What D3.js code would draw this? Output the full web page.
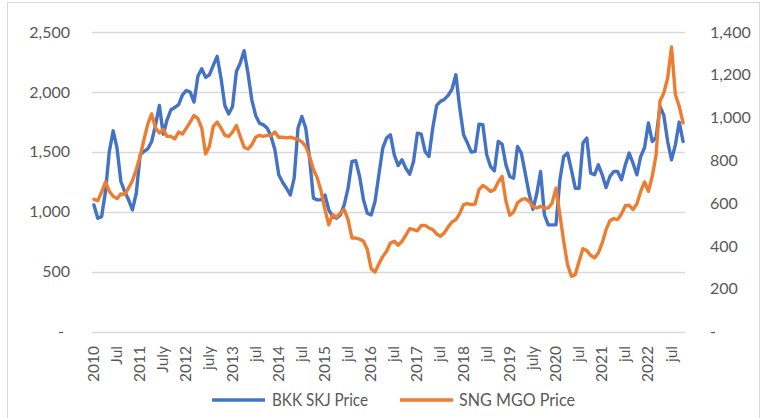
<!DOCTYPE html>
<html><head><meta charset="utf-8">
<script src="https://cdn.jsdelivr.net/npm/d3@7"></script>
<style>
body{margin:0;background:#fff}
svg{display:block}
text{font-family:Lato,'Open Sans',sans-serif;fill:#595959}
</style>
</head><body>
<svg id="chart" width="767" height="418"></svg>
<script>
// ---- data ----
const categories = d3.timeMonth.range(new Date(2010,0,1), new Date(2022,10,1)).map(d3.timeFormat("%Y-%m"));
const tickLabels = ["2010","Jul","2011","July","2012","july","2013","jul","2014","jul","2015","jul","2016","jul","2017","jul","2018","jul","2019","july","2020","jul","2021","jul","2022","jul"];
const seriesNames = ["BKK SKJ Price","SNG MGO Price"];
const bkkSkj = [
1057,945,959,1168,1503,1675,1530,1252,1168,1099,1015,1154,
1475,1503,1525,1586,1725,1887,1647,1767,1851,1870,1893,1976,
2012,1998,1915,2130,2194,2121,2143,2221,2297,2116,1887,1815,
1879,2170,2241,2344,2157,1934,1804,1739,1725,1698,1628,1517,
1308,1246,1196,1140,1280,1698,1795,1698,1447,1113,1099,1099,
1140,1015,959,945,973,1057,1196,1419,1425,1294,1099,987,
973,1085,1308,1530,1614,1642,1475,1386,1433,1363,1313,1419,
1656,1647,1503,1461,1700,1887,1921,1937,1971,2024,2143,1865,
1642,1573,1497,1503,1731,1726,1475,1377,1341,1586,1564,1391,
1294,1280,1545,1489,1322,1154,1020,1150,1335,973,890,890,
890,1265,1461,1489,1350,1196,1196,1573,1614,1322,1308,1391,
1308,1202,1294,1335,1335,1266,1391,1489,1405,1308,1461,1536,
1740,1586,1620,1879,1804,1586,1433,1558,1748,1586];
const sngMgo = [
618,612,652,699,655,632,621,643,640,671,705,757,
819,897,970,1017,952,928,944,912,912,901,932,923,
951,979,1010,995,951,830,866,959,979,951,917,912,
932,963,912,861,853,873,908,917,912,917,917,932,
908,908,905,908,903,898,886,866,819,757,718,656,
570,499,546,534,554,570,523,437,437,432,422,383,
294,278,316,350,375,414,422,403,422,450,481,476,
471,496,496,484,476,456,445,461,489,512,523,551,
593,598,593,596,663,683,671,655,663,699,725,609,
543,559,601,616,621,609,585,577,585,577,577,601,
670,546,422,312,258,266,328,387,378,356,344,367,
414,476,518,528,523,549,588,590,570,596,655,699,
655,725,827,1076,1115,1185,1330,1107,1053,975];
const leftTicks = [0,500,1000,1500,2000,2500];
const rightTicks = [0,200,400,600,800,1000,1200,1400];
const colors = ["#4472C4","#ED7D31"];

// ---- layout ----
const svg = d3.select("#chart");
const L = 92, R = 685, T = 32, B = 331.5;
const x = d3.scaleBand().domain(categories).range([L, R]);
const xc = c => x(c) + x.bandwidth()/2;
const yL = d3.scaleLinear().domain([0,2500]).range([B, T]);
const yR = d3.scaleLinear().domain([0,1400]).range([B, T]);

// frame
svg.append("rect").attr("x",7.5).attr("y",2.5).attr("width",752).attr("height",420)
  .attr("fill","none").attr("stroke","#d9d9d9").attr("stroke-width",1);

// gridlines
svg.append("g").selectAll("line").data(leftTicks).join("line")
  .attr("x1",L).attr("x2",R)
  .attr("y1",d=>Math.round(yL(d))+0.5).attr("y2",d=>Math.round(yL(d))+0.5)
  .attr("stroke","#d9d9d9").attr("stroke-width",1.3);

const fmt = v => v===0 ? "-" : d3.format(",")(v);

// left axis
const gl = svg.append("g").attr("transform",`translate(${L},0)`)
  .call(d3.axisLeft(yL).tickValues(leftTicks).tickSize(0).tickPadding(22).tickFormat(fmt));
gl.select(".domain").remove();
gl.selectAll("text").style("font-size","16px").style("font-family","Lato").attr("fill","#595959")
  .attr("dx",d=>d===0?-6:0);

// right axis
const gr = svg.append("g").attr("transform",`translate(${R},0)`)
  .call(d3.axisRight(yR).tickValues(rightTicks).tickSize(0).tickPadding(25).tickFormat(fmt));
gr.select(".domain").remove();
gr.selectAll("text").style("font-size","16px").style("font-family","Lato").attr("fill","#595959");

// x labels
const labelIdx = tickLabels.map((t,k)=>k*6);
svg.append("g").selectAll("text").data(labelIdx).join("text")
  .attr("transform",i=>`translate(${xc(categories[i])+5},346) rotate(-90)`)
  .attr("text-anchor","end")
  .style("font-size","15.5px")
  .text((i,k)=>tickLabels[k]);

// lines
const line = y => d3.line().x((d,i)=>xc(categories[i])).y(d=>y(d));
[[bkkSkj,yL],[sngMgo,yR]].forEach(([data,y],k)=>{
  svg.append("path").datum(data).attr("d",line(y)).attr("fill","none")
    .attr("stroke",colors[k]).attr("stroke-width",3.4)
    .attr("stroke-linejoin","round").attr("stroke-linecap","round");
});

// legend
const legend = [{x1:212,x2:265,tx:272,tl:96},{x1:400,x2:453,tx:459,tl:116}];
legend.forEach((lg,k)=>{
  svg.append("line").attr("x1",lg.x1).attr("x2",lg.x2).attr("y1",400).attr("y2",400)
    .attr("stroke",colors[k]).attr("stroke-width",3.4);
  svg.append("text").attr("x",lg.tx).attr("y",406).style("font-size","17px")
    .attr("textLength",lg.tl).attr("lengthAdjust","spacingAndGlyphs").text(seriesNames[k]);
});
</script>
</body></html>
